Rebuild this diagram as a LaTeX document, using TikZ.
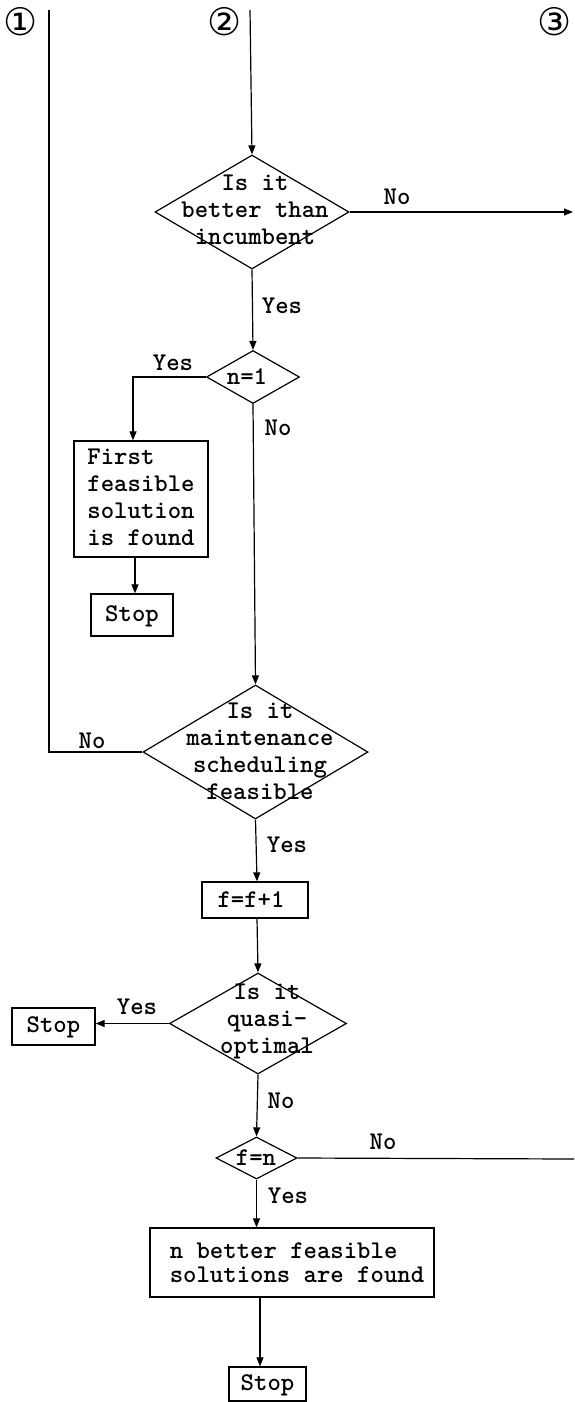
\documentclass[tikz,border=0pt]{standalone}
\usepackage{fontspec}
\newfontfamily\symfont{DejaVu Sans}
\newfontfamily\twfont{lmmonolt10-bold.otf}
\usetikzlibrary{shapes.geometric,arrows.meta}
\tikzset{
  flow/.style={draw, line width=1.2pt, -{Triangle[length=9pt,width=7pt]}},
  plain/.style={draw, line width=1.2pt},
  dia/.style={draw, diamond, line width=1.2pt, inner sep=0pt},
  procbox/.style={draw, rectangle, line width=1.3pt, inner sep=0pt},
  txt/.style={font=\fontsize{25.5}{27}\selectfont\twfont, inner sep=0pt, align=center},
  txtl/.style={txt, align=left},
  lbl/.style={font=\fontsize{25.5}{27}\selectfont\twfont, inner sep=0pt},
  circnum/.style={font=\symfont\fontsize{38}{38}\selectfont, inner sep=0pt},
}
\begin{document}
\begin{tikzpicture}[x=1pt, y=-1pt]
\useasboundingbox (0,0) rectangle (574,1402);

% off-page connectors
\node[circnum] (k1) at (21,22) {①};
\node[circnum] (k2) at (225,22) {②};
\node[circnum] (k3) at (555,22) {③};
\coordinate (c1top) at (49,10);
\coordinate (c2top) at (250,10);
\coordinate (c3a) at (573,212);
\coordinate (c3b) at (574,1159);

% decisions
\node[dia, minimum width=194pt, minimum height=114pt] (d1) at (252,212) {};
\node[txt] (d1t) at (255,210) {Is it\\better than\\incumbent};
\node[dia, minimum width=93pt, minimum height=53pt] (d2) at (253,377) {};
\node[txt] (d2t) at (247,377) {n=1};
\node[dia, minimum width=225pt, minimum height=134pt] (d3) at (255.5,752) {};
\node[txt] (d3t) at (260,751) {Is it\\maintenance\\scheduling\\feasible};
\node[dia, minimum width=177pt, minimum height=101pt] (d4) at (258,1023.5) {};
\node[txt] (d4t) at (267,1021) {Is it\\quasi-\\optimal};
\node[dia, minimum width=81pt, minimum height=42pt] (d5) at (256.5,1158) {};
\node[txt] (d5t) at (256,1158) {f=n};

% processes
\node[procbox, minimum width=134pt, minimum height=116pt] (first) at (141,499) {};
\node[txtl] (firstt) at (141,497) {First\\feasible\\solution\\is found};
\node[procbox, minimum width=82pt, minimum height=42pt] (stop1) at (132,615) {};
\node[txt] (stop1t) at (132,616) {Stop};
\node[procbox, minimum width=106pt, minimum height=36pt] (inc) at (255,900) {};
\node[txt] (inct) at (251,900) {f=f+1};
\node[procbox, minimum width=83pt, minimum height=37pt] (stop2) at (53.5,1026.5) {};
\node[txt] (stop2t) at (53.5,1027) {Stop};
\node[procbox, minimum width=284pt, minimum height=69pt] (found) at (292,1262.5) {};
\node[txtl, font=\fontsize{25.5}{24}\selectfont\twfont] (foundt) at (297,1263) {n better feasible\\solutions are found};
\node[procbox, minimum width=77pt, minimum height=34pt] (stop3) at (267.5,1384) {};
\node[txt] (stop3t) at (267.5,1385) {Stop};

% connectors
\draw[flow] (c2top) -- (d1.north);
\draw[flow] (d1.east) -- (c3a);
\draw[flow] (d1.south) -- (d2.north);
\draw[flow] (d2.west) -| ([xshift=-8pt]first.north);
\draw[flow] ([xshift=-6pt]first.south) -- ([xshift=-6pt]first.south |- stop1.north);
\draw[flow] (d2.south) -- (d3.north);
\draw[plain] (d3.west) -- (d3.west -| c1top) -- (c1top);
\draw[flow] (d3.south) -- ([xshift=2pt]inc.north);
\draw[flow] ([xshift=2pt]inc.south) -- (d4.north);
\draw[flow] (d4.west) -- (d4.west -| stop2.east);
\draw[flow] (d4.south) -- (d5.north);
\draw[plain] (d5.east) -- (c3b);
\draw[flow] (d5.south) -- (d5.south |- found.north);
\draw[flow] ([xshift=-32pt]found.south) -- ([xshift=-32pt]found.south |- stop3.north);

% branch labels
\node[lbl] (l1) at (397,197) {No};
\node[lbl] (l2) at (282,306) {Yes};
\node[lbl] (l3) at (173,363) {Yes};
\node[lbl] (l4) at (278,428) {No};
\node[lbl] (l5) at (92,741) {No};
\node[lbl] (l6) at (287,845) {Yes};
\node[lbl] (l7) at (137,1007) {Yes};
\node[lbl] (l8) at (281,1101) {No};
\node[lbl] (l9) at (383,1142) {No};
\node[lbl] (l10) at (288,1196) {Yes};
\end{tikzpicture}
\end{document}
